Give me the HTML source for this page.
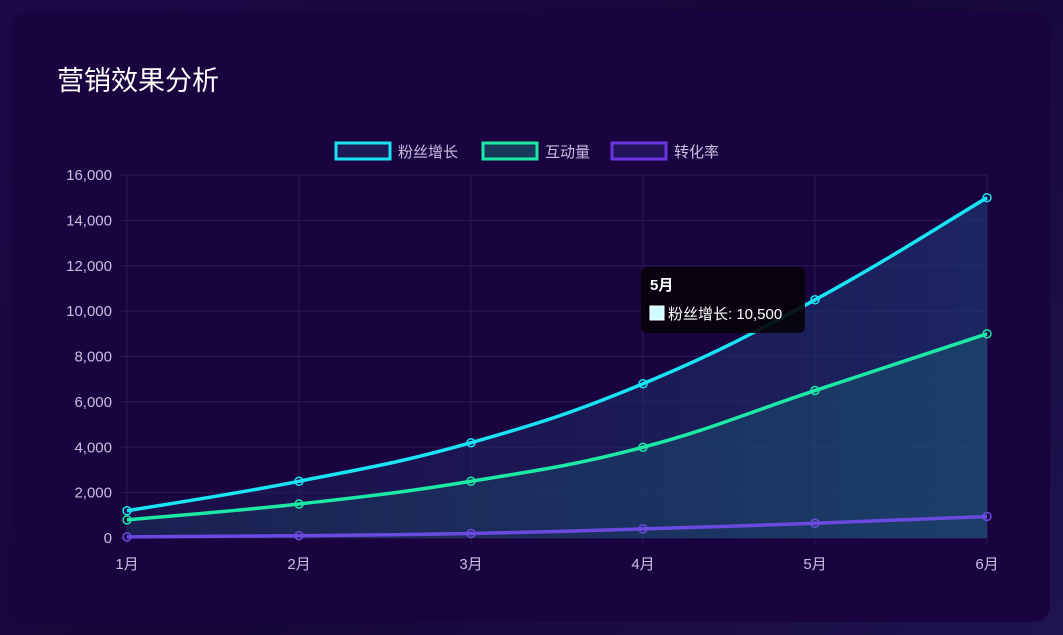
<!DOCTYPE html>
<html><head><meta charset="utf-8"><style>
body{margin:0;width:1063px;height:635px;background:linear-gradient(135deg,#1c0a48,#160638 50%,#1f1450);overflow:hidden;font-family:"Liberation Sans","Noto Sans CJK SC",sans-serif;}
.card{position:absolute;left:12px;top:12px;width:1038px;height:610px;border-radius:16px;background:#1a0440;}
h1{position:absolute;left:57px;top:59px;margin:0;font-size:27px;font-weight:normal;color:#fff;}
svg{position:absolute;left:0;top:0}
</style></head><body>
<div class="card"></div>
<h1>营销效果分析</h1>
<svg width="1063" height="635" id="s">
<defs>
<linearGradient id="fa" x1="0" y1="0" x2="1" y2="0"><stop offset="0" stop-color="#1e1a55" stop-opacity="0.45"/><stop offset="1" stop-color="#1d3a78" stop-opacity="0.6"/></linearGradient>
<linearGradient id="fb" x1="0" y1="0" x2="1" y2="0"><stop offset="0" stop-color="#1a3a60" stop-opacity="0.4"/><stop offset="1" stop-color="#1a5a70" stop-opacity="0.5"/></linearGradient>
</defs>
<g id="grid" stroke="#2a1a55" stroke-width="1"></g>
<g id="labels" fill="#c8bfe0" font-size="15"></g>
<g id="series"></g>
<g font-size="15" fill="#c8bfe0">
<rect x="336" y="143" width="54" height="16" fill="#1e1a55" stroke="#18e4f4" stroke-width="3"/><text x="398" y="157">粉丝增长</text>
<rect x="483" y="143" width="54" height="16" fill="#173a5a" stroke="#1de9a6" stroke-width="3"/><text x="545" y="157">互动量</text>
<rect x="612" y="143" width="54" height="16" fill="#22135a" stroke="#6a35e0" stroke-width="3"/><text x="674" y="157">转化率</text>
</g>
<g>
<rect x="641" y="267" width="164" height="66" rx="6" fill="#050208" opacity="0.9"/>
<text x="650" y="290" fill="#fff" font-size="15" font-weight="bold">5月</text>
<rect x="650" y="306" width="14" height="14" fill="#d0fbff" stroke="#fff" stroke-width="1"/>
<text x="668" y="319" fill="#fff" font-size="15">粉丝增长: 10,500</text>
</g>
</svg>
<script>
const X=i=>127+172*i, Y=v=>538-v*363/16000;
const g=document.getElementById('grid'),L=document.getElementById('labels'),S=document.getElementById('series');
const ns='http://www.w3.org/2000/svg';
function el(p,t,a,txt){const e=document.createElementNS(ns,t);for(const k in a)e.setAttribute(k,a[k]);if(txt)e.textContent=txt;p.appendChild(e);return e;}
for(let v=0;v<=16000;v+=2000){el(g,'line',{x1:120,x2:987,y1:Y(v),y2:Y(v)});el(L,'text',{x:112,y:Y(v)+5,'text-anchor':'end'},v.toLocaleString('en-US'));}
const m=['1月','2月','3月','4月','5月','6月'];
for(let i=0;i<6;i++){el(g,'line',{x1:X(i),x2:X(i),y1:175,y2:545});el(L,'text',{x:X(i),y:569,'text-anchor':'middle'},m[i]);}
function path(d){const p=d.map((v,i)=>[X(i),Y(v)]);let s='M'+p[0];const t=0.2;
for(let i=0;i<p.length-1;i++){const p0=p[i-1]||p[i],p1=p[i],p2=p[i+1],p3=p[i+2]||p2;
const c1=[p1[0]+(p2[0]-p0[0])*t,p1[1]+(p2[1]-p0[1])*t],c2=[p2[0]-(p3[0]-p1[0])*t,p2[1]-(p3[1]-p1[1])*t];
s+=' C'+c1+' '+c2+' '+p2;}return s;}
const D=[[1200,2500,4200,6800,10500,15000,'#18e4f4','url(#fa)'],[800,1500,2500,4000,6500,9000,'#1de9a6','url(#fb)'],[50,100,200,400,650,950,'#6a4ae0',null]];
D.forEach(r=>{const d=r.slice(0,6),p=path(d);
if(r[7])el(S,'path',{d:p+` L${X(5)},538 L${X(0)},538 Z`,fill:r[7]});
el(S,'path',{d:p,fill:'none',stroke:r[6],'stroke-width':3.5});
d.forEach((v,i)=>el(S,'circle',{cx:X(i),cy:Y(v),r:4,fill:'none',stroke:r[6],'stroke-width':1.5}));});
S.parentNode.appendChild(S.parentNode.children[S.parentNode.children.length-1]);
</script>
</body></html>
